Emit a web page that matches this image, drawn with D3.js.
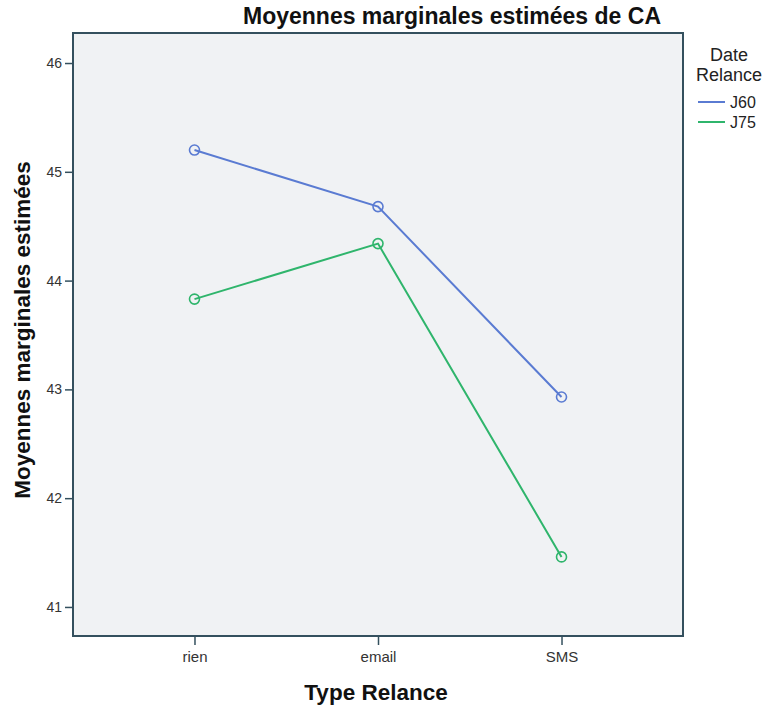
<!DOCTYPE html>
<html><head><meta charset="utf-8">
<script src="https://cdn.jsdelivr.net/npm/d3@7"></script>
<style>body{margin:0;background:#fff;} text{font-family:"Liberation Sans",Arial,sans-serif;}</style>
</head><body>
<svg id="c" width="779" height="706"></svg>
<script>
const categories = ["rien", "email", "SMS"];
const seriesNames = ["J60", "J75"];
const valuesJ60 = [45.20, 44.68, 42.93];
const valuesJ75 = [43.83, 44.34, 41.46];
const yTicks = [41, 42, 43, 44, 45, 46];
const colors = ["#5a7bd2", "#2fb56c"];

const svg = d3.select("#c");
const L = 73, R = 683, T = 33, B = 636;
const x = d3.scalePoint().domain(categories).range([L, R]).padding(0.662);
const y = d3.scaleLinear().domain([40.733, 46.276]).range([B, T]);

svg.append("rect").attr("x", L).attr("y", T).attr("width", R - L).attr("height", B - T)
  .attr("fill", "#f0f2f4").attr("stroke", "#34505e").attr("stroke-width", 2);

const yAxis = svg.append("g").attr("transform", `translate(${L},0)`)
  .call(d3.axisLeft(y).tickValues(yTicks).tickSize(8).tickPadding(3).tickFormat(d3.format("d")));
yAxis.select(".domain").remove();
yAxis.selectAll("line").attr("stroke", "#34505e").attr("stroke-width", 1.5);
yAxis.selectAll("text").attr("fill", "#333").style("font-size", "14px");

const xAxis = svg.append("g").attr("transform", `translate(0,${B})`)
  .call(d3.axisBottom(x).tickSize(9).tickPadding(6));
xAxis.select(".domain").remove();
xAxis.selectAll("line").attr("stroke", "#34505e").attr("stroke-width", 1.5);
xAxis.selectAll("text").attr("fill", "#333").style("font-size", "15px");

const series = [valuesJ60, valuesJ75];
const line = d3.line().x((d, i) => x(categories[i])).y(d => y(d));
series.forEach((vals, s) => {
  svg.append("path").datum(vals).attr("d", line).attr("fill", "none")
    .attr("stroke", colors[s]).attr("stroke-width", 2);
  svg.selectAll(null).data(vals).enter().append("circle")
    .attr("cx", (d, i) => x(categories[i])).attr("cy", d => y(d)).attr("r", 5)
    .attr("fill", "none").attr("stroke", colors[s]).attr("stroke-width", 1.6);
});

svg.append("text").attr("x", 452).attr("y", 24).attr("text-anchor", "middle")
  .style("font-size", "23px").style("font-weight", "bold").attr("fill", "#111")
  .text("Moyennes marginales estimées de CA");
svg.append("text").attr("transform", "translate(30,330) rotate(-90)").attr("text-anchor", "middle")
  .style("font-size", "22.5px").style("font-weight", "bold").attr("fill", "#111")
  .text("Moyennes marginales estimées");
svg.append("text").attr("x", 376).attr("y", 700).attr("text-anchor", "middle")
  .style("font-size", "22.5px").style("font-weight", "bold").attr("fill", "#111")
  .text("Type Relance");

const lg = svg.append("g");
lg.append("text").attr("x", 729).attr("y", 61).attr("text-anchor", "middle")
  .style("font-size", "18px").attr("fill", "#222").text("Date");
lg.append("text").attr("x", 729).attr("y", 81).attr("text-anchor", "middle")
  .style("font-size", "18px").attr("fill", "#222").text("Relance");
seriesNames.forEach((n, i) => {
  const yy = 102 + i * 20;
  lg.append("line").attr("x1", 698).attr("x2", 725).attr("y1", yy).attr("y2", yy)
    .attr("stroke", colors[i]).attr("stroke-width", 2);
  lg.append("text").attr("x", 730).attr("y", yy + 6).style("font-size", "16px")
    .attr("fill", "#222").text(n);
});
</script>
</body></html>
